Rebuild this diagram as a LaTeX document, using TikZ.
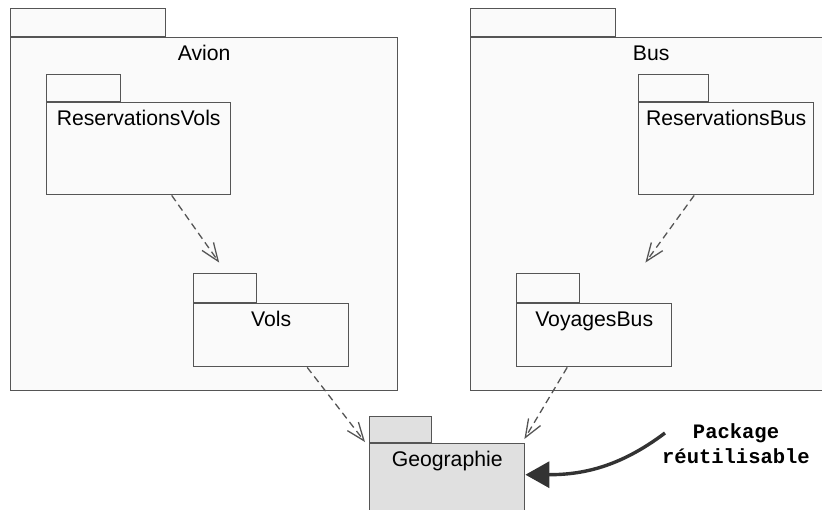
\documentclass[tikz,border=0pt]{standalone}
\usepackage{fontspec}
\setmainfont{Liberation Sans}
\setmonofont{Liberation Mono}
\usetikzlibrary{arrows.meta,positioning}
\definecolor{pkgline}{HTML}{555555}
\definecolor{pkgpanel}{HTML}{FAFAFA}
\definecolor{reusefill}{HTML}{E0E0E0}
\definecolor{notearrow}{HTML}{333333}

\begin{document}
\begin{tikzpicture}[x=1pt,y=-1pt,
 pkg/.style={draw=pkgline,fill=pkgpanel,line width=1.4pt,inner sep=0pt,
   anchor=north west,text height=23pt,font=\fontsize{21.2}{25}\selectfont},
 tab/.style={draw=pkgline,fill=pkgpanel,line width=1.4pt,inner sep=0pt,
   above right=0pt and 0pt of #1.north west},
 dep/.style={draw=pkgline,line width=1.3pt,dash pattern=on 7pt off 4.5pt,
   -{Straight Barb[length=18pt,width=14pt]}},
 note/.style={font=\ttfamily\bfseries\fontsize{20.5}{25}\selectfont,
   align=center,inner sep=0pt},
 hint/.style={draw=notearrow,line width=3.4pt,-{Triangle[length=24pt,width=26pt]}}]
 \useasboundingbox (0,0) rectangle (822,509);
 \node[pkg,minimum width=387pt,text depth=330pt] (avion) at (10,37) {Avion};
 \node[tab=avion,minimum width=155pt,minimum height=28pt] (avion-tab) {};
 \node[pkg,minimum width=361pt,text depth=330pt] (bus) at (470,37) {Bus};
 \node[tab=bus,minimum width=145pt,minimum height=28pt] (bus-tab) {};
 \node[pkg,minimum width=184pt,text depth=69pt] (resvols) at (46,102) {ReservationsVols};
 \node[tab=resvols,minimum width=74pt,minimum height=27pt] (resvols-tab) {};
 \node[pkg,minimum width=155pt,text depth=40pt] (vols) at (193,303) {Vols};
 \node[tab=vols,minimum width=63pt,minimum height=29pt] (vols-tab) {};
 \node[pkg,minimum width=175pt,text depth=69pt] (resbus) at (638,102) {ReservationsBus};
 \node[tab=resbus,minimum width=70pt,minimum height=27pt] (resbus-tab) {};
 \node[pkg,minimum width=155pt,text depth=40pt] (voyagesbus) at (516,303) {VoyagesBus};
 \node[tab=voyagesbus,minimum width=63pt,minimum height=29pt] (voyagesbus-tab) {};
 \node[pkg,fill=reusefill,minimum width=155pt,text depth=57pt] (geographie) at (369,443) {Geographie};
 \node[tab=geographie,fill=reusefill,minimum width=62pt,minimum height=26pt] (geographie-tab) {};
 \node[note] (reuse) at (736,444) {Package\\réutilisable};
 \draw[dep] ([xshift=33pt]resvols.south)--([shift={(-6,-10)}]vols-tab.north);
 \draw[dep] ([xshift=-32pt]resbus.south)--([shift={(65,-10)}]voyagesbus-tab.north east);
 \draw[dep] ([xshift=36pt]vols.south)--([shift={(-4,-1)}]geographie.north west);
 \draw[dep] ([xshift=-27pt]voyagesbus.south)--([shift={(-1,-4)}]geographie.north east);
 \draw[hint] ([shift={(3,-11)}]reuse.west) to[out=217,in=0] ([shift={(0,-9)}]geographie.east);
\end{tikzpicture}
\end{document}
